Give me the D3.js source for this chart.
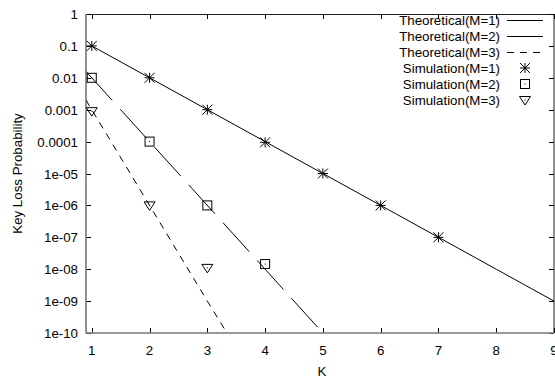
<!DOCTYPE html>
<html>
<head>
  <meta charset="utf-8">
  <script src="https://d3js.org/d3.v7.min.js"></script>
  <style>
    body { margin: 0; background: #fff; }
    text { font-family: "Liberation Sans", Arial, sans-serif; font-size: 13.3px; fill: #000; }
  </style>
</head>
<body>
<script>
// values
var kTicks = [1, 2, 3, 4, 5, 6, 7, 8, 9];
var yTicks = [1, 0.1, 0.01, 0.001, 1e-4, 1e-5, 1e-6, 1e-7, 1e-8, 1e-9, 1e-10];
var yTickLabels = ["1", "0.1", "0.01", "0.001", "0.0001", "1e-05", "1e-06", "1e-07", "1e-08", "1e-09", "1e-10"];

var theoK1 = [1, 2, 3, 4, 5, 6, 7, 8, 9];
var theoP1 = [1e-1, 1e-2, 1e-3, 1e-4, 1e-5, 1e-6, 1e-7, 1e-8, 1e-9];
var theoK2 = [0.9, 1, 2, 3, 4, 5];
var theoP2 = [1.58e-2, 1e-2, 1e-4, 1e-6, 1e-8, 1e-10];
var theoK3 = [0.9, 1, 2, 3, 3.34];
var theoP3 = [2e-3, 1e-3, 1e-6, 1e-9, 1e-10];

var simK1 = [1, 2, 3, 4, 5, 6, 7];
var simP1 = [1e-1, 1e-2, 1e-3, 9.5e-5, 1e-5, 1e-6, 1e-7];
var simK2 = [1, 2, 3, 4];
var simP2 = [1e-2, 1e-4, 1e-6, 1.45e-8];
var simK3 = [1, 2, 3];
var simP3 = [9e-4, 1e-6, 1.1e-8];

var legendNames = ["Theoretical(M=1)", "Theoretical(M=2)", "Theoretical(M=3)",
                   "Simulation(M=1)", "Simulation(M=2)", "Simulation(M=3)"];

var W = 555, H = 378;
var pl = 86, pr = 554, pt = 14, pb = 333;

var svg = d3.select("body").append("svg").attr("width", W).attr("height", H);

var x = d3.scaleLinear().domain([0.9, 9]).range([pl, pr]);
var y = d3.scaleLog().domain([1e-10, 1]).range([pb, pt]);

svg.append("clipPath").attr("id", "plot")
  .append("rect").attr("x", pl).attr("y", pt)
  .attr("width", pr - pl).attr("height", pb - pt);

// frame
svg.append("line").attr("x1", pl).attr("x2", pr).attr("y1", pt + 0.5).attr("y2", pt + 0.5)
  .attr("stroke", "#222").attr("stroke-width", 1);
svg.append("line").attr("x1", pr).attr("x2", pr).attr("y1", pt).attr("y2", pb)
  .attr("stroke", "#222").attr("stroke-width", 1);

// ticks, mirrored on top/right
kTicks.forEach(function(k) {
  var px = Math.round(x(k)) + 0.5;
  svg.append("line").attr("x1", px).attr("x2", px).attr("y1", pb).attr("y2", pb - 5)
    .attr("stroke", "#000");
  svg.append("line").attr("x1", px).attr("x2", px).attr("y1", pt).attr("y2", pt + 5)
    .attr("stroke", "#000");
  svg.append("text").attr("x", x(k)).attr("y", 355).attr("text-anchor", "middle").text(k);
});
yTicks.forEach(function(v, i) {
  var py = Math.round(y(v)) + 0.5;
  svg.append("line").attr("x1", pl).attr("x2", pl + 5).attr("y1", py).attr("y2", py)
    .attr("stroke", "#000");
  svg.append("line").attr("x1", pr).attr("x2", pr - 5).attr("y1", py).attr("y2", py)
    .attr("stroke", "#000");
  svg.append("text").attr("x", 78).attr("y", y(v) + 5).attr("text-anchor", "end").text(yTickLabels[i]);
});

svg.append("line").attr("x1", pl).attr("x2", pl).attr("y1", pt).attr("y2", pb)
  .attr("stroke", "#777").attr("stroke-width", 1.6);
svg.append("line").attr("x1", pl).attr("x2", pr).attr("y1", pb).attr("y2", pb)
  .attr("stroke", "#777").attr("stroke-width", 1.6);

// axis titles
svg.append("text").attr("x", 322).attr("y", 376).attr("text-anchor", "middle").text("K");
svg.append("text").attr("transform", "translate(22," + ((pt + pb) / 2) + ") rotate(-90)")
  .attr("text-anchor", "middle").text("Key Loss Probability");

// theoretical lines
var line = d3.line().x(function(d) { return x(d[0]); }).y(function(d) { return y(d[1]); });
var plot = svg.append("g").attr("clip-path", "url(#plot)");
var theo = [
  { k: theoK1, p: theoP1, dash: null },
  { k: theoK2, p: theoP2, dash: "39,12" },
  { k: theoK3, p: theoP3, dash: "7,6" }
];
theo.forEach(function(s) {
  plot.append("path").datum(d3.zip(s.k, s.p)).attr("d", line)
    .attr("fill", "none").attr("stroke", "#000").attr("stroke-width", 1)
    .attr("stroke-dasharray", s.dash);
});

// markers
function star(g, cx, cy) {
  var r = 5;
  g.append("path").attr("d",
    "M" + (cx - r) + "," + cy + "H" + (cx + r) +
    "M" + cx + "," + (cy - r) + "V" + (cy + r) +
    "M" + (cx - r) + "," + (cy - r) + "L" + (cx + r) + "," + (cy + r) +
    "M" + (cx - r) + "," + (cy + r) + "L" + (cx + r) + "," + (cy - r))
    .attr("stroke", "#000").attr("stroke-width", 1).attr("fill", "none");
}
function square(g, cx, cy) {
  g.append("rect").attr("x", cx - 4.5).attr("y", cy - 4.5).attr("width", 9).attr("height", 9)
    .attr("fill", "none").attr("stroke", "#000").attr("stroke-width", 1);
  g.append("rect").attr("x", cx - 0.5).attr("y", cy - 0.5).attr("width", 1).attr("height", 1).attr("fill", "#000");
}
function triangle(g, cx, cy) {
  g.append("path").attr("d",
    "M" + (cx - 5.5) + "," + (cy - 3.5) + "L" + (cx + 5.5) + "," + (cy - 3.5) +
    "L" + cx + "," + (cy + 5) + "Z")
    .attr("fill", "none").attr("stroke", "#000").attr("stroke-width", 1);
  g.append("rect").attr("x", cx - 0.5).attr("y", cy - 0.5).attr("width", 1).attr("height", 1).attr("fill", "#000");
}
var sims = [
  { k: simK1, p: simP1, mark: star },
  { k: simK2, p: simP2, mark: square },
  { k: simK3, p: simP3, mark: triangle }
];
sims.forEach(function(s) {
  s.k.forEach(function(k, i) { s.mark(svg, x(k), y(s.p[i])); });
});

// legend
var leg = svg.append("g");
legendNames.forEach(function(name, i) {
  var ly = 20 + i * 16;
  leg.append("text").attr("x", 500).attr("y", ly + 5).attr("text-anchor", "end").text(name);
  if (i < 3) {
    leg.append("line").attr("x1", 507).attr("x2", 543).attr("y1", ly + 0.5).attr("y2", ly + 0.5)
      .attr("stroke", "#000").attr("stroke-dasharray", theo[i].dash);
  } else {
    sims[i - 3].mark(leg, 525, ly);
  }
});
</script>
</body>
</html>
